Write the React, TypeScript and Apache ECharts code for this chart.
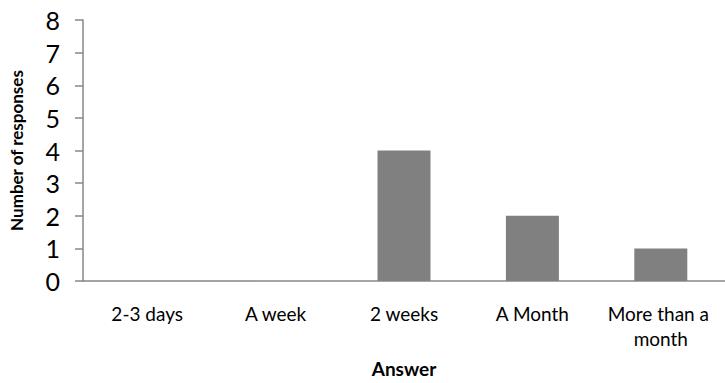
import React, { useEffect, useRef } from "react";
import * as echarts from "echarts";

const categories = ["2-3 days", "A week", "2 weeks", "A Month", "More than a month"];
const responses = [0, 0, 4, 2, 1];
const yTicks = { min: 0, max: 8, interval: 1 };

const FONT = "Lato, 'Open Sans', sans-serif";
const AXIS_COLOR = "#878787";

export default function App() {
  const ref = useRef<HTMLDivElement>(null);

  useEffect(() => {
    if (!ref.current) return;
    const chart = echarts.init(ref.current, null, { renderer: "svg" });
    chart.setOption({
      animation: false,
      backgroundColor: "#ffffff",
      grid: { left: 76, right: -9, top: 20, bottom: 93, containLabel: false },
      xAxis: {
        type: "category",
        data: categories,
        name: "Answer",
        nameLocation: "middle",
        nameGap: 78,
        nameTextStyle: { fontFamily: FONT, fontSize: 19, fontWeight: "bold", color: "#000" },
        axisLine: { show: true, lineStyle: { color: AXIS_COLOR, width: 1.5 } },
        axisTick: { show: false },
        axisLabel: {
          fontFamily: FONT,
          fontSize: 19,
          color: "#000",
          margin: 20,
          lineHeight: 25,
          width: 125,
          overflow: "break",
          interval: 0,
        },
        splitLine: { show: false },
      },
      yAxis: {
        type: "value",
        min: yTicks.min,
        max: yTicks.max,
        interval: yTicks.interval,
        name: "Number of responses",
        nameLocation: "middle",
        nameGap: 58,
        nameRotate: 90,
        nameTextStyle: { fontFamily: FONT, fontSize: 17, fontWeight: "bold", color: "#000" },
        axisLine: { show: true, lineStyle: { color: AXIS_COLOR, width: 1.5 } },
        axisTick: { show: true, length: 8, lineStyle: { color: AXIS_COLOR, width: 1.5 } },
        axisLabel: { fontFamily: FONT, fontSize: 25, color: "#000", margin: 23 },
        splitLine: { show: false },
      },
      series: [
        {
          type: "bar",
          data: responses,
          barWidth: 53,
          itemStyle: { color: "#808080" },
        },
      ],
    });
    return () => chart.dispose();
  }, []);

  return (
    <div
      ref={ref}
      style={{ position: "fixed", left: 0, top: 0, width: 725, height: 383 }}
    />
  );
}
